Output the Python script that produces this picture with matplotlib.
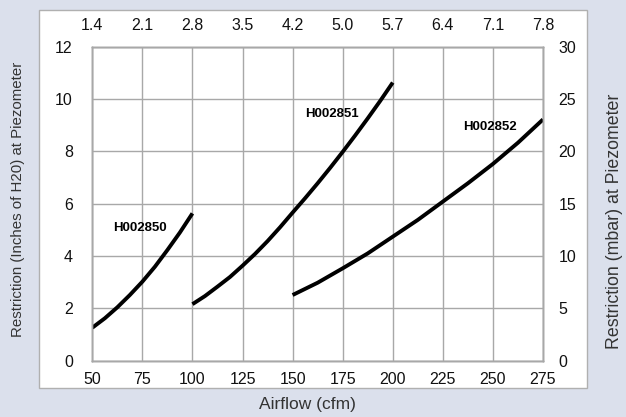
import matplotlib
matplotlib.use("Agg")
import matplotlib.pyplot as plt
from matplotlib.patches import Rectangle

plt.rcParams['font.family'] = ['Liberation Sans', 'DejaVu Sans']

# axis ticks
airflow_ticks = [50, 75, 100, 125, 150, 175, 200, 225, 250, 275]
top_labels = ['1.4', '2.1', '2.8', '3.5', '4.2', '5.0', '5.7', '6.4', '7.1', '7.8']
inh2o_ticks = [0, 2, 4, 6, 8, 10, 12]
mbar_ticks = [0, 5, 10, 15, 20, 25, 30]

# curves (cfm, inches H2O)
h850_cfm = [50, 56.25, 62.5, 68.75, 75, 81.25, 87.5, 93.75, 100]
h850_res = [1.26, 1.62, 2.04, 2.51, 3.02, 3.59, 4.23, 4.90, 5.63]

h851_cfm = [100, 106.25, 112.5, 118.75, 125, 131.25, 137.5, 143.75, 150,
            156.25, 162.5, 168.75, 175, 181.25, 187.5, 193.75, 200]
h851_res = [2.16, 2.47, 2.83, 3.20, 3.63, 4.08, 4.57, 5.10, 5.66,
            6.21, 6.78, 7.37, 7.98, 8.61, 9.26, 9.93, 10.63]

h852_cfm = [150, 162.5, 175, 187.5, 200, 212.5, 225, 237.5, 250, 262.5, 275]
h852_res = [2.51, 2.98, 3.53, 4.10, 4.74, 5.38, 6.08, 6.78, 7.52, 8.33, 9.22]

model_names = ['H002850', 'H002851', 'H002852']
label_cfm = [73.9, 169.7, 248.4]
label_res = [5.08, 9.43, 8.94]

bg = '#dbe0ec'
grid_c = '#a8a8a8'
txt_c = '#111111'

fig = plt.figure(figsize=(6.26, 4.17), dpi=100, facecolor=bg)

# white panel behind the plot
fig.patches.append(Rectangle((0.0628, 0.0695), 0.8744, 0.9065, transform=fig.transFigure,
                             facecolor='white', edgecolor='#b0b0b0', linewidth=1, zorder=-5))

ax = fig.add_axes([0.1474, 0.135, 0.72, 0.753])
ax.set_facecolor('white')

for cfm, res in [(h850_cfm, h850_res), (h851_cfm, h851_res), (h852_cfm, h852_res)]:
    ax.plot(cfm, res, color='black', linewidth=2.8, solid_capstyle='butt',
            solid_joinstyle='round', zorder=3)

for name, x, y in zip(model_names, label_cfm, label_res):
    ax.text(x, y, name, ha='center', va='center', fontsize=9.5, fontweight='bold',
            color='black', zorder=4)

ax.set_xlim(50, 275)
ax.set_ylim(0, 12)
ax.set_xticks(airflow_ticks)
ax.set_yticks(inh2o_ticks)
ax.grid(True, color=grid_c, linewidth=1)
ax.set_axisbelow(True)
ax.tick_params(axis='x', length=0, pad=8, labelsize=11.5, labelcolor=txt_c)
ax.tick_params(axis='y', length=0, pad=14, labelsize=11.5, labelcolor=txt_c)

ax_r = ax.twinx()
ax_r.set_ylim(0, 30)
ax_r.set_yticks(mbar_ticks)
ax_r.tick_params(axis='y', length=0, pad=11, labelsize=11.5, labelcolor=txt_c)

ax_t = ax.twiny()
ax_t.set_xlim(50, 275)
ax_t.set_xticks(airflow_ticks)
ax_t.set_xticklabels(top_labels)
ax_t.tick_params(axis='x', length=0, pad=10, labelsize=11.5, labelcolor=txt_c)

for a in (ax, ax_r, ax_t):
    for s in a.spines.values():
        s.set_color(grid_c)
        s.set_linewidth(1)

fig.text(0.491, 0.031, 'Airflow (cfm)', ha='center', va='center', fontsize=12.5, color='#333333')
fig.text(0.0288, 0.523, 'Restriction (Inches of H20) at Piezometer', ha='center', va='center',
         rotation=90, fontsize=10.8, color='#333333')
fig.text(0.981, 0.47, 'Restriction (mbar) at Piezometer', ha='center', va='center',
         rotation=90, fontsize=12.8, color='#333333')

fig.savefig('out.png', dpi=100, facecolor=bg)
